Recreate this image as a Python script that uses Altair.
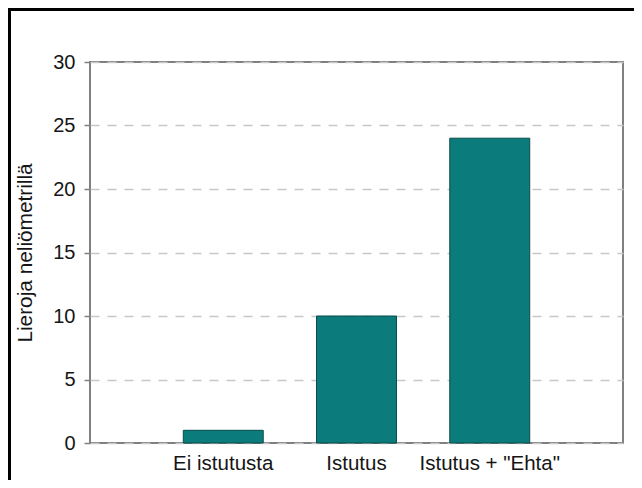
import altair as alt
import pandas as pd

categories = ["Ei istutusta", "Istutus", 'Istutus + "Ehta"']
values = [1, 10, 24]
y_ticks = [0, 5, 10, 15, 20, 25, 30]

df = pd.DataFrame({"cat": categories, "val": values})

W, H = 533, 381
PL, PT, PR, PB = 82, 54, 11, 37
FONT = "Liberation Sans"
TXT = "#151515"

bars = alt.Chart(df).mark_bar(color="#0b7b7b", stroke="#0a4c4c", strokeWidth=1).encode(
    x=alt.X(
        "cat:N",
        sort=categories,
        scale=alt.Scale(paddingInner=0.4, paddingOuter=0.7),
        axis=alt.Axis(title=None, labelAngle=0, ticks=False, domain=False, grid=False,
                      labelPadding=10, labelFontSize=20.5, labelFont=FONT, labelColor=TXT),
    ),
    y=alt.Y(
        "val:Q",
        scale=alt.Scale(domain=[0, 30], nice=False),
        axis=alt.Axis(values=y_ticks, title="Lieroja neliömetrillä", domain=False,
                      grid=True, gridColor="#c8c8c8", gridDash=[9, 8], gridWidth=1.5,
                      ticks=True, tickSize=6, tickColor="#808080", tickWidth=1.5,
                      labelPadding=9, labelFontSize=20, labelFont=FONT, labelColor=TXT,
                      titleFont=FONT, titleFontSize=20.8, titleFontWeight="normal", titleColor=TXT,
                      titleAngle=270, titleX=-65, titleY=H / 2, titleAlign="center",
                      titleBaseline="middle"),
    ),
)

one = pd.DataFrame({"k": [0]})
left_frame = alt.Chart(one).mark_rule(color="black", strokeWidth=3).encode(
    x=alt.value(-PL + 1.5), y=alt.value(-PT), y2=alt.value(H + PB)
)
top_frame = alt.Chart(one).mark_rule(color="black", strokeWidth=3).encode(
    x=alt.value(-PL), x2=alt.value(W + PR), y=alt.value(-PT + 1.5)
)

chart = alt.layer(bars, left_frame, top_frame).properties(
    width=W, height=H,
    padding={"left": PL, "top": PT, "right": PR, "bottom": PB},
    autosize=alt.AutoSizeParams(type="none"),
    background="white",
).configure_view(stroke="#808080", strokeWidth=2)

chart.save("out.html", embed_options={"renderer": "svg", "actions": False})
